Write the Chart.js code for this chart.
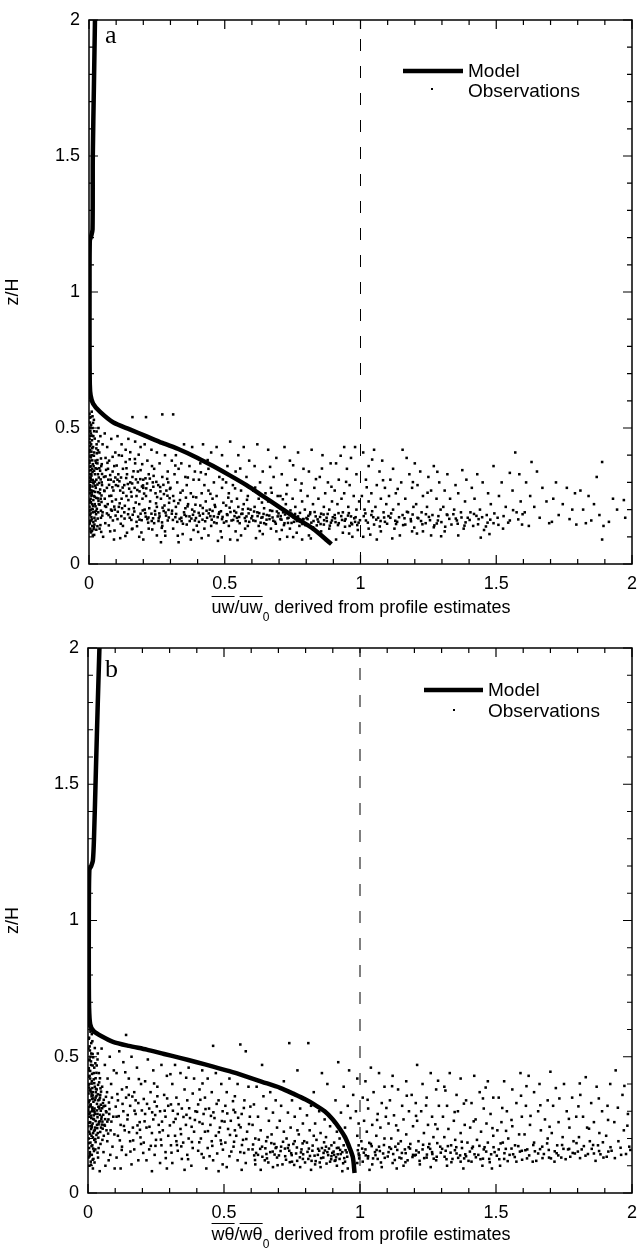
<!DOCTYPE html>
<html>
<head>
<meta charset="utf-8">
<script src="https://cdn.jsdelivr.net/npm/chart.js@4.4.1/dist/chart.umd.min.js"></script>
<style>
body{margin:0;background:#fff;width:637px;height:1252px;position:relative;overflow:hidden;font-family:"Liberation Sans",Arial,sans-serif;color:#000}
canvas{position:absolute;left:0}
#cA{top:0}
#cB{top:626px}
.xt{position:absolute;left:89px;width:544px;text-align:center;font-size:18px;line-height:18px;white-space:nowrap}
.ov{text-decoration:overline;text-decoration-thickness:1px}
.s{font-size:12px;position:relative;top:8px}
</style>
</head>
<body>
<canvas id="cA" width="637" height="626"></canvas>
<canvas id="cB" width="637" height="626"></canvas>
<div class="xt" style="top:598px"><span class="ov">uw</span>/<span class="ov">uw</span><span class="s">0</span> derived from profile estimates</div>
<div class="xt" style="top:1225px"><span class="ov">wθ</span>/<span class="ov">wθ</span><span class="s">0</span> derived from profile estimates</div>
<script>
// model profiles [x, z/H]
var modelA = [[0.022,2.0],[0.018,1.75],[0.014,1.5],[0.013,1.23],[0.008,1.205],[0.003,1.19],[0.002,1.0],[0.002,0.8],[0.003,0.66],
  [0.006,0.62],[0.015,0.59],[0.04,0.56],[0.09,0.52],[0.15,0.495],[0.21,0.47],[0.27,0.445],[0.335,0.42],[0.4,0.39],[0.457,0.36],
  [0.52,0.325],[0.58,0.29],[0.64,0.25],[0.70,0.21],[0.76,0.17],[0.825,0.13],[0.893,0.073]];
var modelB = [[0.042,2.0],[0.036,1.8],[0.029,1.55],[0.022,1.3],[0.018,1.22],[0.012,1.2],[0.005,1.185],[0.003,1.0],[0.003,0.8],
  [0.004,0.68],[0.008,0.62],[0.02,0.595],[0.05,0.575],[0.092,0.555],[0.15,0.54],[0.216,0.526],[0.28,0.51],[0.338,0.496],[0.4,0.48],
  [0.46,0.464],[0.52,0.447],[0.58,0.428],[0.64,0.408],[0.706,0.386],[0.76,0.362],[0.80,0.343],[0.83,0.326],[0.87,0.30],[0.90,0.27],
  [0.925,0.237],[0.945,0.205],[0.962,0.165],[0.974,0.13],[0.98,0.073]];
var unityLine = [[1,0],[1,2]];
var legendLabels = ['Model', 'Observations'];

// observations, panel a
var obsA = [
[0.003,0.52],[0.005,0.49],[0.002,0.46],[0.008,0.44],[0.004,0.42],[0.01,0.40],[0.003,0.38],[0.006,0.36],[0.012,0.35],[0.002,0.33],
[0.007,0.31],[0.015,0.30],[0.004,0.29],[0.009,0.27],[0.003,0.26],[0.018,0.25],[0.006,0.24],[0.011,0.22],[0.002,0.21],[0.008,0.20],
[0.014,0.19],[0.004,0.18],[0.02,0.17],[0.007,0.16],[0.003,0.15],[0.012,0.14],[0.005,0.13],[0.022,0.33],[0.025,0.28],[0.019,0.41],
[0.016,0.47],[0.024,0.38],[0.013,0.50],[0.006,0.54],[0.01,0.56],[0.021,0.22],[0.027,0.31],[0.017,0.36],[0.009,0.325],[0.005,0.305],
[0.013,0.285],[0.002,0.275],[0.023,0.265],[0.008,0.345],[0.004,0.395],[0.015,0.43],[0.011,0.455],[0.028,0.44],[0.002,0.50],[0.018,0.53],
[0.006,0.12],[0.014,0.105],[0.02,0.145],[0.026,0.195],[0.003,0.235],[0.01,0.255],[0.029,0.35],[0.016,0.235],[0.007,0.48],[0.024,0.16],
[0.035,0.50],[0.042,0.47],[0.05,0.44],[0.038,0.41],[0.061,0.39],[0.045,0.36],[0.07,0.35],[0.033,0.33],[0.055,0.32],[0.08,0.31],
[0.048,0.29],[0.066,0.28],[0.09,0.27],[0.04,0.26],[0.075,0.25],[0.058,0.24],[0.085,0.23],[0.036,0.22],[0.063,0.21],[0.095,0.20],
[0.05,0.19],[0.072,0.18],[0.044,0.17],[0.088,0.16],[0.06,0.15],[0.039,0.13],[0.078,0.12],[0.052,0.10],[0.092,0.09],[0.067,0.43],
[0.082,0.46],[0.058,0.48],[0.097,0.41],[0.074,0.38],[0.031,0.37],[0.087,0.34],[0.047,0.30],[0.099,0.29],[0.069,0.22],[0.034,0.19],
[0.081,0.20],[0.056,0.27],[0.093,0.36],[0.043,0.24],[0.071,0.31],
[0.105,0.47],[0.12,0.44],[0.135,0.42],[0.11,0.40],[0.15,0.385],[0.17,0.37],[0.125,0.35],[0.19,0.345],[0.14,0.33],[0.16,0.32],
[0.105,0.31],[0.18,0.30],[0.13,0.29],[0.195,0.285],[0.115,0.27],[0.155,0.265],[0.175,0.25],[0.12,0.24],[0.145,0.235],[0.185,0.22],
[0.11,0.21],[0.165,0.205],[0.13,0.19],[0.19,0.185],[0.15,0.17],[0.105,0.165],[0.175,0.155],[0.125,0.14],[0.16,0.13],[0.14,0.115],
[0.185,0.10],[0.115,0.095],[0.17,0.45],[0.145,0.46],[0.19,0.43],[0.16,0.54],[0.135,0.375],[0.18,0.34],[0.2,0.31],[0.108,0.33],
[0.152,0.30],[0.168,0.28],[0.138,0.25],[0.197,0.24],[0.122,0.205],
[0.21,0.54],[0.27,0.55],[0.205,0.44],[0.23,0.42],[0.25,0.41],[0.28,0.40],[0.215,0.38],[0.26,0.37],[0.24,0.35],[0.29,0.34],
[0.22,0.33],[0.27,0.32],[0.235,0.30],[0.255,0.29],[0.2,0.28],[0.285,0.27],[0.245,0.26],[0.21,0.25],[0.265,0.24],[0.225,0.23],
[0.295,0.225],[0.25,0.21],[0.205,0.20],[0.275,0.195],[0.23,0.185],[0.26,0.175],[0.215,0.165],[0.29,0.16],[0.24,0.15],[0.27,0.14],
[0.22,0.13],[0.28,0.12],[0.25,0.105],[0.2,0.09],[0.265,0.08],[0.232,0.36],[0.292,0.30],[0.208,0.315],[0.278,0.215],[0.243,0.195],
[0.31,0.55],[0.35,0.44],[0.38,0.43],[0.32,0.40],[0.305,0.38],[0.34,0.37],[0.37,0.36],[0.33,0.35],[0.39,0.34],[0.315,0.33],
[0.355,0.32],[0.385,0.31],[0.325,0.30],[0.36,0.29],[0.3,0.28],[0.345,0.27],[0.375,0.26],[0.31,0.25],[0.395,0.245],[0.335,0.235],
[0.365,0.22],[0.32,0.21],[0.38,0.20],[0.35,0.19],[0.305,0.185],[0.37,0.175],[0.34,0.17],[0.39,0.16],[0.325,0.155],[0.36,0.145],
[0.31,0.13],[0.385,0.125],[0.345,0.11],[0.375,0.09],[0.33,0.08],[0.355,0.205],
[0.42,0.44],[0.47,0.43],[0.45,0.41],[0.49,0.40],[0.41,0.37],[0.44,0.35],[0.43,0.33],[0.48,0.32],[0.405,0.31],[0.46,0.30],
[0.425,0.29],[0.49,0.28],[0.44,0.27],[0.415,0.26],[0.47,0.25],[0.455,0.24],[0.43,0.23],[0.495,0.225],[0.41,0.215],[0.465,0.21],
[0.445,0.20],[0.48,0.19],[0.42,0.185],[0.46,0.175],[0.435,0.17],[0.49,0.165],[0.405,0.155],[0.47,0.15],[0.45,0.14],[0.425,0.13],
[0.485,0.12],[0.44,0.105],[0.415,0.095],[0.475,0.085],[0.455,0.195],
[0.52,0.45],[0.57,0.43],[0.55,0.40],[0.59,0.38],[0.51,0.36],[0.54,0.34],[0.58,0.32],[0.505,0.30],[0.53,0.29],[0.56,0.27],
[0.515,0.26],[0.585,0.25],[0.545,0.24],[0.525,0.23],[0.57,0.22],[0.505,0.215],[0.55,0.21],[0.595,0.20],[0.535,0.195],[0.565,0.185],
[0.51,0.18],[0.58,0.175],[0.545,0.17],[0.525,0.16],[0.59,0.155],[0.555,0.15],[0.515,0.14],[0.575,0.13],[0.54,0.12],[0.56,0.105],
[0.52,0.09],[0.585,0.14],
[0.62,0.44],[0.66,0.42],[0.69,0.39],[0.61,0.36],[0.64,0.34],[0.68,0.32],[0.63,0.30],[0.67,0.28],[0.605,0.27],[0.65,0.26],
[0.695,0.25],[0.625,0.24],[0.66,0.23],[0.685,0.22],[0.61,0.21],[0.645,0.205],[0.675,0.195],[0.62,0.19],[0.655,0.18],[0.695,0.175],
[0.635,0.17],[0.665,0.165],[0.605,0.16],[0.685,0.155],[0.645,0.15],[0.625,0.14],[0.67,0.13],[0.69,0.12],[0.64,0.11],[0.615,0.095],
[0.72,0.43],[0.77,0.41],[0.74,0.38],[0.79,0.35],[0.71,0.33],[0.76,0.31],[0.73,0.29],[0.78,0.27],[0.705,0.25],[0.75,0.24],
[0.785,0.23],[0.725,0.22],[0.76,0.21],[0.795,0.20],[0.715,0.19],[0.745,0.185],[0.77,0.175],[0.735,0.17],[0.705,0.165],[0.79,0.165],
[0.755,0.155],[0.72,0.15],[0.775,0.14],[0.74,0.13],[0.71,0.125],[0.765,0.115],[0.73,0.10],[0.785,0.09],
[0.82,0.42],[0.86,0.40],[0.89,0.37],[0.81,0.34],[0.85,0.32],[0.88,0.30],[0.83,0.28],[0.87,0.26],[0.805,0.25],[0.845,0.24],
[0.895,0.23],[0.825,0.22],[0.865,0.21],[0.885,0.20],[0.815,0.19],[0.855,0.185],[0.835,0.175],[0.875,0.17],[0.805,0.165],[0.895,0.16],
[0.845,0.155],[0.865,0.145],[0.825,0.135],[0.885,0.13],[0.855,0.12],[0.81,0.105],
[0.94,0.43],[0.98,0.43],[0.965,0.39],[0.91,0.37],[0.95,0.35],[0.985,0.33],[0.92,0.31],[0.96,0.29],[0.905,0.27],[0.94,0.26],
[0.975,0.25],[0.93,0.24],[0.995,0.23],[0.915,0.22],[0.955,0.21],[0.985,0.20],[0.935,0.19],[0.905,0.18],[0.965,0.175],[0.945,0.165],
[0.98,0.155],[0.92,0.15],[0.96,0.14],[0.99,0.125],[0.935,0.115],[0.97,0.10],[0.91,0.09],
[1.01,0.41],[1.05,0.42],[1.08,0.38],[1.03,0.36],[1.07,0.34],[1.02,0.31],[1.06,0.29],[1.09,0.28],[1.04,0.26],[1.005,0.25],
[1.075,0.24],[1.03,0.23],[1.095,0.22],[1.055,0.21],[1.015,0.20],[1.085,0.19],[1.04,0.18],[1.065,0.17],[1.02,0.16],[1.09,0.155],
[1.05,0.145],[1.03,0.13],[1.075,0.12],[1.01,0.10],[1.06,0.09],
[1.155,0.42],[1.17,0.39],[1.2,0.37],[1.12,0.35],[1.18,0.33],[1.11,0.31],[1.15,0.30],[1.19,0.28],[1.13,0.26],[1.105,0.25],
[1.165,0.24],[1.14,0.22],[1.195,0.21],[1.12,0.20],[1.175,0.19],[1.155,0.18],[1.11,0.17],[1.185,0.165],[1.135,0.155],[1.165,0.145],
[1.125,0.13],[1.19,0.12],[1.145,0.105],
[1.27,0.36],[1.22,0.34],[1.25,0.32],[1.29,0.30],[1.21,0.29],[1.26,0.27],[1.23,0.25],[1.28,0.24],[1.205,0.22],[1.245,0.21],
[1.295,0.20],[1.225,0.19],[1.265,0.18],[1.21,0.17],[1.285,0.16],[1.24,0.15],[1.27,0.135],[1.23,0.12],[1.26,0.105],
[1.375,0.345],[1.39,0.31],[1.32,0.33],[1.35,0.29],[1.31,0.27],[1.36,0.26],[1.33,0.24],[1.385,0.23],[1.305,0.21],[1.345,0.20],
[1.37,0.19],[1.32,0.18],[1.395,0.17],[1.355,0.16],[1.335,0.145],[1.38,0.13],[1.31,0.12],[1.36,0.105],
[1.43,0.33],[1.49,0.36],[1.45,0.30],[1.41,0.28],[1.47,0.26],[1.42,0.24],[1.48,0.22],[1.44,0.20],[1.405,0.19],[1.465,0.18],
[1.435,0.165],[1.49,0.15],[1.415,0.14],[1.455,0.125],[1.475,0.11],
[1.57,0.41],[1.55,0.335],[1.585,0.33],[1.52,0.30],[1.56,0.27],[1.51,0.25],[1.59,0.23],[1.535,0.21],[1.575,0.19],[1.505,0.17],
[1.55,0.16],[1.595,0.145],[1.525,0.13],
[1.63,0.375],[1.65,0.34],[1.61,0.30],[1.67,0.28],[1.625,0.25],[1.685,0.23],[1.64,0.21],[1.605,0.19],[1.66,0.17],[1.695,0.15],
[1.62,0.14],
[1.72,0.30],[1.76,0.28],[1.79,0.26],[1.71,0.24],[1.745,0.22],[1.78,0.20],[1.73,0.18],[1.77,0.165],[1.705,0.155],[1.795,0.145],
[1.89,0.375],[1.87,0.32],[1.81,0.27],[1.84,0.25],[1.86,0.22],[1.82,0.20],[1.88,0.18],[1.85,0.16],[1.895,0.14],[1.83,0.15],
[1.89,0.09],
[1.93,0.24],[1.97,0.235],[1.975,0.17],[1.945,0.20],[1.915,0.155],
// denser parts of panel a
[0.004,0.447],[0.009,0.413],[0.002,0.372],[0.013,0.338],[0.006,0.317],[0.017,0.296],[0.003,0.282],[0.011,0.263],[0.021,0.247],[0.007,0.228],
[0.015,0.214],[0.002,0.196],[0.026,0.183],[0.009,0.172],[0.004,0.158],[0.018,0.137],[0.031,0.292],[0.036,0.318],[0.041,0.274],[0.033,0.241],
[0.046,0.228],[0.038,0.352],[0.044,0.388],[0.029,0.407],[0.012,0.426],[0.005,0.471],[0.019,0.488],[0.008,0.512],[0.003,0.538],[0.024,0.212],
[0.016,0.154],[0.032,0.167],[0.011,0.122],[0.027,0.126],[0.042,0.143],[0.048,0.331],[0.035,0.451],[0.001,0.344],[0.014,0.367],[0.022,0.303],
[0.063,0.346],[0.078,0.327],[0.091,0.303],[0.107,0.287],[0.118,0.318],[0.126,0.262],[0.143,0.294],[0.157,0.248],[0.164,0.341],[0.178,0.272],
[0.189,0.312],[0.203,0.259],[0.214,0.296],[0.227,0.271],[0.238,0.324],[0.251,0.246],[0.262,0.283],[0.276,0.257],[0.288,0.313],[0.297,0.242],
[0.059,0.213],[0.084,0.196],[0.098,0.178],[0.113,0.223],[0.131,0.167],[0.147,0.202],[0.161,0.181],[0.172,0.226],[0.186,0.163],[0.198,0.197],
[0.209,0.174],[0.222,0.205],[0.236,0.168],[0.247,0.223],[0.259,0.186],[0.271,0.207],[0.284,0.178],[0.293,0.199],[0.068,0.372],[0.087,0.394],
[0.102,0.362],[0.121,0.398],[0.138,0.352],[0.152,0.411],[0.169,0.386],[0.183,0.402],[0.196,0.367],[0.073,0.142],[0.094,0.123],[0.117,0.148],
[0.134,0.103],[0.158,0.128],[0.177,0.139],[0.193,0.116],[0.218,0.152],[0.233,0.127],[0.256,0.158],[0.268,0.133],[0.281,0.104],[0.057,0.268],
[0.082,0.251],[0.099,0.237],
[0.306,0.196],[0.318,0.172],[0.329,0.223],[0.341,0.158],[0.352,0.181],[0.363,0.212],[0.377,0.167],[0.388,0.193],[0.397,0.141],[0.408,0.178],
[0.419,0.206],[0.428,0.157],[0.441,0.186],[0.452,0.163],[0.463,0.217],[0.474,0.172],[0.486,0.194],[0.497,0.152],[0.508,0.183],[0.518,0.207],
[0.531,0.162],[0.542,0.189],[0.553,0.173],[0.566,0.201],[0.577,0.158],[0.588,0.186],[0.598,0.168],[0.608,0.193],[0.621,0.176],[0.632,0.152],
[0.643,0.184],[0.654,0.163],[0.667,0.197],[0.676,0.171],[0.688,0.148],[0.698,0.186],[0.709,0.163],[0.722,0.182],[0.733,0.151],[0.742,0.197],
[0.753,0.172],[0.766,0.158],[0.777,0.188],[0.788,0.165],[0.797,0.143],[0.808,0.177],[0.819,0.152],[0.831,0.191],[0.842,0.164],[0.853,0.147],
[0.864,0.182],[0.876,0.158],[0.887,0.141],[0.898,0.172],[0.908,0.154],[0.919,0.187],[0.932,0.162],[0.943,0.137],[0.954,0.178],[0.966,0.151],
[0.977,0.168],[0.988,0.143],[0.998,0.161],[0.337,0.262],[0.384,0.247],[0.447,0.258],[0.513,0.244],[0.582,0.236],[0.637,0.226],[0.714,0.238],
[1.012,0.176],[1.027,0.152],[1.043,0.194],[1.058,0.163],[1.071,0.138],[1.087,0.171],[1.098,0.148],[1.113,0.186],[1.128,0.159],[1.142,0.172],
[1.157,0.143],[1.171,0.192],[1.186,0.157],[1.198,0.134],[1.213,0.168],[1.228,0.146],[1.241,0.183],[1.256,0.161],[1.272,0.142],[1.287,0.176],
[1.298,0.154],[1.312,0.137],[1.327,0.166],[1.342,0.183],[1.358,0.148],[1.372,0.171],[1.387,0.153],[1.402,0.162],[1.418,0.184],[1.433,0.146],
[1.448,0.172],[1.462,0.138],[1.478,0.163],[1.493,0.186],[1.508,0.144],[1.527,0.176],[1.544,0.152],[1.562,0.198],[1.581,0.164],[1.597,0.183],
[0.412,0.337],[0.493,0.311],[0.538,0.278],[0.612,0.281],[0.673,0.262],[0.727,0.257],[0.783,0.296],[0.836,0.312],[0.893,0.284],[0.947,0.302],
[1.023,0.282],[1.083,0.308],[1.137,0.276],[1.193,0.301],[1.247,0.262],[1.283,0.339],[0.318,0.362],[0.364,0.318],[0.437,0.382],[0.557,0.351],
[0.667,0.357],[0.752,0.363],[0.858,0.351],[0.927,0.398],[1.043,0.384],
[0.327,0.104],[0.402,0.118],[0.489,0.098],[0.547,0.088],[0.629,0.121],[0.703,0.091],[0.752,0.099],[0.817,0.094],[0.873,0.088],[0.958,0.112],
[1.036,0.108],[1.117,0.094],[1.208,0.112],[1.297,0.102],[1.443,0.097],
[0.002,0.412],[0.007,0.392],[0.012,0.381],[0.004,0.357],[0.019,0.343],[0.008,0.331],[0.001,0.318],[0.014,0.309],[0.023,0.288],[0.005,0.271],
[0.016,0.268],[0.009,0.251],[0.027,0.243],[0.003,0.226],[0.013,0.203],[0.021,0.192],[0.006,0.186],[0.011,0.164],[0.001,0.147],[0.017,0.128],
[0.024,0.352],[0.031,0.382],[0.037,0.298],[0.043,0.311],[0.034,0.264],[0.046,0.252],[0.039,0.218],[0.029,0.203],[0.044,0.196],[0.049,0.178],
[0.006,0.502],[0.015,0.519],[0.001,0.487],[0.011,0.472],[0.021,0.461],[0.027,0.425],[0.033,0.418],[0.004,0.433],[0.018,0.398],[0.026,0.372],
[0.041,0.343],[0.047,0.367],[0.035,0.232],[0.008,0.116],[0.019,0.107],[0.031,0.139],[0.045,0.118],[0.002,0.552],[0.013,0.543],[0.028,0.487],
[0.061,0.322],[0.074,0.291],[0.086,0.282],[0.097,0.318],[0.112,0.304],[0.124,0.281],[0.137,0.316],[0.148,0.277],[0.159,0.296],[0.173,0.311],
[0.186,0.267],[0.199,0.289],[0.211,0.278],[0.224,0.314],[0.237,0.284],[0.248,0.302],[0.263,0.267],[0.274,0.291],[0.289,0.251],[0.298,0.276],
[0.066,0.186],[0.079,0.172],[0.093,0.211],[0.106,0.192],[0.119,0.176],[0.132,0.214],[0.144,0.183],[0.156,0.162],[0.167,0.193],[0.181,0.174],
[0.194,0.161],[0.207,0.187],[0.219,0.171],[0.231,0.158],[0.244,0.182],[0.257,0.168],[0.269,0.153],[0.282,0.189],[0.294,0.171],[0.309,0.162],
[0.321,0.184],[0.334,0.166],[0.346,0.148],[0.358,0.176],[0.371,0.158],[0.383,0.181],[0.394,0.169],[0.313,0.232],[0.357,0.244],[0.392,0.218],
[0.404,0.188],[0.418,0.163],[0.433,0.196],[0.447,0.176],[0.461,0.153],[0.478,0.184],[0.492,0.173],[0.506,0.157],[0.521,0.191],[0.536,0.176],
[0.548,0.158],[0.561,0.184],[0.574,0.169],[0.586,0.203],[0.601,0.176],[0.613,0.158],[0.627,0.187],[0.639,0.172],[0.652,0.146],[0.664,0.178],
[0.679,0.159],[0.692,0.193],[0.706,0.176],[0.718,0.143],[0.731,0.168],[0.746,0.151],[0.759,0.184],[0.772,0.162],[0.786,0.147],[0.801,0.169],
[0.814,0.183],[0.827,0.158],[0.839,0.142],[0.851,0.173],[0.866,0.161],[0.879,0.184],[0.891,0.152],[0.906,0.168],[0.917,0.143],[0.929,0.176],
[0.942,0.159],[0.957,0.187],[0.969,0.146],[0.982,0.172],[0.993,0.152],[1.018,0.186],[1.047,0.172],[1.074,0.158],[1.103,0.176],[1.131,0.147],
[1.162,0.168],[1.192,0.182],[1.223,0.158],[1.252,0.173],[1.281,0.149],[1.318,0.182],[1.351,0.167],[1.383,0.141],[1.427,0.177],[1.468,0.152]
];

// observations, panel b
var obsB = [
[0.003,0.62],[0.008,0.60],[0.004,0.57],[0.012,0.55],[0.002,0.53],[0.017,0.51],[0.006,0.49],[0.011,0.47],[0.003,0.45],[0.021,0.44],
[0.008,0.42],[0.014,0.41],[0.004,0.40],[0.025,0.39],[0.009,0.38],[0.018,0.37],[0.002,0.365],[0.013,0.355],[0.028,0.35],[0.006,0.34],
[0.02,0.335],[0.01,0.325],[0.004,0.315],[0.024,0.31],[0.015,0.30],[0.007,0.295],[0.027,0.29],[0.003,0.28],[0.012,0.275],[0.022,0.27],
[0.008,0.26],[0.017,0.255],[0.002,0.245],[0.026,0.24],[0.011,0.235],[0.005,0.225],[0.019,0.22],[0.013,0.21],[0.003,0.20],[0.023,0.195],
[0.009,0.185],[0.016,0.175],[0.004,0.165],[0.027,0.16],[0.007,0.15],[0.014,0.14],[0.002,0.13],[0.02,0.125],[0.01,0.115],[0.005,0.10],
[0.018,0.09],[0.029,0.37],[0.016,0.385],[0.006,0.43],[0.023,0.46],[0.009,0.50],[0.015,0.345],[0.001,0.305],[0.021,0.285],[0.012,0.245],
[0.032,0.38],[0.045,0.36],[0.038,0.34],[0.055,0.33],[0.042,0.31],[0.066,0.30],[0.035,0.29],[0.05,0.28],[0.075,0.27],[0.04,0.26],
[0.06,0.25],[0.048,0.24],[0.083,0.23],[0.036,0.22],[0.058,0.21],[0.07,0.37],[0.052,0.39],[0.088,0.35],[0.063,0.32],[0.078,0.29],
[0.044,0.35],[0.033,0.25],[0.093,0.28],[0.068,0.23],[0.085,0.40],[0.04,0.44],[0.062,0.47],[0.08,0.50],[0.05,0.53],[0.095,0.45],
[0.035,0.49],[0.072,0.42],[0.046,0.18],[0.09,0.17],[0.057,0.15],[0.037,0.13],[0.076,0.12],[0.064,0.10],[0.098,0.09],[0.043,0.08],
[0.082,0.14],[0.053,0.195],[0.097,0.215],[0.039,0.165],[0.071,0.19],
[0.14,0.58],[0.115,0.52],[0.16,0.50],[0.13,0.48],[0.18,0.46],[0.105,0.44],[0.15,0.42],[0.195,0.40],[0.125,0.38],[0.17,0.37],
[0.14,0.35],[0.11,0.34],[0.185,0.33],[0.155,0.32],[0.13,0.30],[0.175,0.29],[0.105,0.28],[0.145,0.27],[0.19,0.26],[0.12,0.25],
[0.165,0.24],[0.135,0.23],[0.18,0.22],[0.11,0.21],[0.155,0.19],[0.195,0.18],[0.125,0.17],[0.17,0.16],[0.14,0.14],[0.105,0.13],
[0.185,0.12],[0.16,0.105],[0.12,0.09],[0.15,0.36],[0.175,0.34],
[0.22,0.49],[0.27,0.47],[0.24,0.45],[0.29,0.43],[0.21,0.41],[0.255,0.39],[0.23,0.37],[0.28,0.36],[0.205,0.345],[0.245,0.335],
[0.295,0.32],[0.225,0.31],[0.265,0.30],[0.21,0.29],[0.285,0.28],[0.24,0.27],[0.26,0.25],[0.215,0.24],[0.275,0.23],[0.235,0.22],
[0.295,0.21],[0.25,0.195],[0.205,0.185],[0.27,0.175],[0.225,0.16],[0.285,0.15],[0.245,0.14],[0.215,0.12],[0.265,0.11],[0.29,0.09],
[0.235,0.08],[0.255,0.355],
[0.32,0.47],[0.37,0.46],[0.34,0.44],[0.39,0.42],[0.31,0.40],[0.355,0.38],[0.385,0.365],[0.325,0.35],[0.365,0.34],[0.305,0.325],
[0.345,0.31],[0.395,0.30],[0.33,0.29],[0.375,0.275],[0.315,0.26],[0.36,0.25],[0.34,0.235],[0.39,0.225],[0.32,0.21],[0.37,0.20],
[0.35,0.185],[0.305,0.175],[0.385,0.165],[0.33,0.155],[0.365,0.14],[0.345,0.125],[0.31,0.11],[0.38,0.10],[0.355,0.085],[0.325,0.19],
[0.46,0.54],[0.42,0.45],[0.47,0.44],[0.44,0.42],[0.49,0.40],[0.41,0.38],[0.455,0.37],[0.43,0.35],[0.48,0.34],[0.405,0.325],
[0.445,0.31],[0.495,0.30],[0.425,0.29],[0.465,0.275],[0.41,0.26],[0.45,0.25],[0.485,0.24],[0.43,0.225],[0.47,0.21],[0.415,0.20],
[0.455,0.19],[0.49,0.18],[0.44,0.165],[0.405,0.155],[0.475,0.145],[0.425,0.13],[0.46,0.12],[0.495,0.105],[0.435,0.09],[0.48,0.08],
[0.56,0.545],[0.58,0.52],[0.52,0.42],[0.55,0.40],[0.59,0.39],[0.51,0.37],[0.54,0.355],[0.575,0.34],[0.505,0.32],[0.535,0.305],
[0.565,0.29],[0.595,0.28],[0.525,0.265],[0.555,0.25],[0.515,0.235],[0.585,0.225],[0.545,0.21],[0.57,0.195],[0.505,0.185],[0.535,0.17],
[0.59,0.16],[0.56,0.15],[0.52,0.135],[0.55,0.12],[0.58,0.11],[0.51,0.095],[0.565,0.085],[0.54,0.23],
[0.64,0.47],[0.62,0.39],[0.67,0.37],[0.645,0.355],[0.69,0.34],[0.61,0.325],[0.655,0.31],[0.68,0.295],[0.625,0.28],[0.665,0.265],
[0.605,0.25],[0.695,0.24],[0.635,0.23],[0.675,0.215],[0.615,0.20],[0.655,0.19],[0.685,0.18],[0.64,0.17],[0.605,0.16],[0.67,0.15],
[0.625,0.14],[0.695,0.13],[0.65,0.12],[0.615,0.105],[0.68,0.095],[0.635,0.085],[0.66,0.205],[0.69,0.165],
[0.74,0.55],[0.77,0.45],[0.72,0.41],[0.75,0.34],[0.71,0.32],[0.78,0.31],[0.735,0.295],[0.76,0.28],[0.705,0.265],[0.79,0.255],
[0.745,0.24],[0.72,0.225],[0.775,0.215],[0.73,0.20],[0.795,0.19],[0.755,0.18],[0.71,0.17],[0.785,0.16],[0.74,0.155],[0.765,0.145],
[0.725,0.135],[0.79,0.125],[0.75,0.115],[0.715,0.105],[0.78,0.095],[0.76,0.19],[0.735,0.165],[0.77,0.23],
[0.81,0.55],[0.86,0.44],[0.88,0.40],[0.83,0.37],[0.82,0.32],[0.85,0.30],[0.805,0.285],[0.87,0.27],[0.835,0.255],[0.89,0.245],
[0.815,0.23],[0.855,0.22],[0.875,0.205],[0.84,0.195],[0.805,0.185],[0.895,0.175],[0.86,0.165],[0.825,0.155],[0.88,0.15],[0.845,0.14],
[0.865,0.13],[0.81,0.125],[0.89,0.115],[0.835,0.105],[0.855,0.095],[0.82,0.085],[0.875,0.17],[0.85,0.155],[0.83,0.21],[0.895,0.135],
[0.92,0.48],[0.96,0.45],[0.99,0.42],[0.94,0.39],[0.975,0.36],[0.91,0.34],[0.955,0.32],[0.985,0.30],[0.93,0.295],[0.965,0.275],
[0.905,0.26],[0.995,0.255],[0.945,0.24],[0.915,0.225],[0.99,0.21],[0.925,0.20],[0.905,0.185],[0.94,0.175],[0.915,0.165],[0.935,0.15],
[0.995,0.145],[0.905,0.14],[0.925,0.125],[0.945,0.115],[0.99,0.11],[0.915,0.10],[0.955,0.09],[0.935,0.08],[0.995,0.175],[0.91,0.12],
[1.04,0.46],[1.07,0.44],[1.02,0.41],[1.09,0.39],[1.05,0.37],[1.01,0.35],[1.08,0.33],[1.03,0.31],[1.065,0.29],[1.095,0.28],
[1.015,0.265],[1.045,0.25],[1.075,0.24],[1.025,0.225],[1.06,0.21],[1.09,0.20],[1.005,0.19],[1.04,0.18],[1.07,0.17],[1.02,0.16],
[1.055,0.15],[1.085,0.145],[1.03,0.135],[1.065,0.125],[1.01,0.115],[1.045,0.105],[1.08,0.095],[1.035,0.085],
[1.12,0.43],[1.17,0.41],[1.14,0.38],[1.19,0.36],[1.11,0.34],[1.155,0.32],[1.18,0.30],[1.125,0.285],[1.16,0.27],[1.105,0.255],
[1.195,0.245],[1.14,0.23],[1.17,0.215],[1.115,0.20],[1.15,0.19],[1.185,0.18],[1.13,0.17],[1.165,0.16],[1.105,0.15],[1.195,0.14],
[1.145,0.13],[1.175,0.12],[1.12,0.11],[1.16,0.10],[1.135,0.09],
[1.21,0.47],[1.26,0.44],[1.23,0.40],[1.28,0.38],[1.245,0.35],[1.205,0.33],[1.29,0.32],[1.225,0.30],[1.265,0.28],[1.21,0.265],
[1.25,0.25],[1.285,0.235],[1.235,0.22],[1.27,0.205],[1.215,0.19],[1.255,0.18],[1.295,0.17],[1.23,0.16],[1.265,0.15],[1.205,0.14],
[1.245,0.13],[1.28,0.12],[1.22,0.105],[1.26,0.095],
[1.33,0.44],[1.37,0.42],[1.31,0.39],[1.355,0.36],[1.39,0.34],[1.32,0.32],[1.36,0.30],[1.305,0.28],[1.345,0.265],[1.385,0.25],
[1.325,0.235],[1.37,0.22],[1.31,0.205],[1.35,0.195],[1.395,0.185],[1.335,0.175],[1.375,0.165],[1.315,0.155],[1.355,0.145],[1.39,0.135],
[1.34,0.125],[1.37,0.115],[1.32,0.10],[1.38,0.09],
[1.42,0.43],[1.47,0.41],[1.44,0.37],[1.49,0.35],[1.41,0.33],[1.455,0.31],[1.48,0.29],[1.425,0.27],[1.465,0.255],[1.405,0.24],
[1.445,0.225],[1.49,0.21],[1.43,0.195],[1.47,0.185],[1.415,0.17],[1.455,0.16],[1.495,0.15],[1.435,0.14],[1.475,0.125],[1.41,0.115],
[1.45,0.10],[1.485,0.09],
[1.59,0.44],[1.53,0.41],[1.56,0.38],[1.51,0.35],[1.575,0.33],[1.54,0.30],[1.595,0.28],[1.52,0.26],[1.56,0.245],[1.505,0.23],
[1.585,0.215],[1.545,0.20],[1.525,0.185],[1.57,0.175],[1.51,0.16],[1.595,0.155],[1.55,0.14],[1.53,0.125],[1.575,0.115],[1.515,0.10],
[1.70,0.445],[1.62,0.43],[1.66,0.40],[1.64,0.37],[1.69,0.34],[1.61,0.32],[1.655,0.30],[1.68,0.27],[1.625,0.25],[1.665,0.23],
[1.605,0.215],[1.69,0.20],[1.64,0.185],[1.67,0.17],[1.615,0.16],[1.655,0.145],[1.695,0.13],[1.635,0.115],
[1.75,0.40],[1.72,0.385],[1.78,0.35],[1.71,0.32],[1.76,0.30],[1.795,0.28],[1.73,0.26],[1.77,0.24],[1.705,0.22],[1.745,0.205],
[1.785,0.19],[1.725,0.175],[1.765,0.16],[1.79,0.145],[1.74,0.13],[1.715,0.115],
[1.83,0.425],[1.87,0.39],[1.81,0.36],[1.85,0.33],[1.89,0.30],[1.82,0.28],[1.86,0.26],[1.835,0.24],[1.88,0.22],[1.805,0.205],
[1.845,0.19],[1.875,0.175],[1.815,0.16],[1.86,0.145],[1.895,0.13],
[1.94,0.45],[1.92,0.40],[1.965,0.36],[1.91,0.32],[1.985,0.29],[1.935,0.26],[1.97,0.23],[1.905,0.21],[1.95,0.19],[1.99,0.17],
[1.925,0.155],[1.96,0.14],
// denser parts of panel b
[0.004,0.387],[0.011,0.372],[0.018,0.358],[0.026,0.341],[0.033,0.327],[0.041,0.316],[0.047,0.302],[0.056,0.287],[0.063,0.271],[0.071,0.262],
[0.006,0.258],[0.014,0.241],[0.022,0.228],[0.031,0.213],[0.038,0.203],[0.045,0.224],[0.054,0.236],[0.062,0.247],[0.074,0.218],[0.003,0.333],
[0.009,0.318],[0.016,0.308],[0.024,0.296],[0.035,0.278],[0.043,0.263],[0.051,0.251],[0.058,0.342],[0.066,0.353],[0.077,0.332],[0.029,0.382],
[0.037,0.397],[0.048,0.372],[0.013,0.402],[0.021,0.417],[0.002,0.427],[0.008,0.448],[0.017,0.468],[0.004,0.487],[0.012,0.512],[0.006,0.538],
[0.003,0.566],[0.014,0.583],[0.025,0.532],[0.032,0.468],[0.044,0.421],[0.052,0.311],[0.068,0.296],[0.079,0.308],[0.086,0.262],[0.028,0.187],
[0.019,0.163],[0.007,0.143],[0.035,0.148],[0.011,0.104],[0.024,0.112],
[0.108,0.363],[0.127,0.327],[0.146,0.286],[0.163,0.354],[0.182,0.248],[0.198,0.303],[0.217,0.327],[0.236,0.296],[0.253,0.318],[0.272,0.262],
[0.291,0.347],[0.312,0.302],[0.333,0.326],[0.351,0.279],[0.372,0.311],[0.393,0.268],[0.413,0.342],[0.432,0.308],[0.452,0.283],[0.473,0.327],
[0.492,0.264],[0.512,0.292],[0.533,0.337],[0.552,0.276],[0.573,0.312],[0.592,0.253],[0.117,0.193],[0.156,0.152],[0.193,0.204],[0.231,0.173],
[0.268,0.196],[0.307,0.148],[0.343,0.171],[0.382,0.187],[0.418,0.143],[0.457,0.173],[0.496,0.159],[0.537,0.188],[0.574,0.147],[0.137,0.443],
[0.187,0.418],[0.243,0.402],[0.303,0.436],[0.361,0.423],[0.421,0.402],
[0.607,0.178],[0.618,0.147],[0.628,0.196],[0.641,0.133],[0.652,0.164],[0.663,0.112],[0.674,0.183],[0.686,0.141],[0.697,0.102],[0.708,0.154],
[0.717,0.188],[0.728,0.122],[0.738,0.176],[0.749,0.139],[0.758,0.103],[0.768,0.167],[0.779,0.131],[0.789,0.182],[0.798,0.112],[0.807,0.151],
[0.816,0.136],[0.826,0.174],[0.837,0.117],[0.846,0.162],[0.857,0.128],[0.866,0.147],[0.877,0.108],[0.886,0.163],[0.894,0.124],[0.903,0.152],
[0.912,0.131],[0.921,0.166],[0.929,0.143],[0.938,0.109],[0.947,0.157],[0.953,0.133],[0.992,0.157],[0.997,0.127],[0.868,0.186],[0.822,0.118],
[0.783,0.149],[0.742,0.113],[0.693,0.168],[0.656,0.143],[0.614,0.121],
[1.008,0.163],[1.021,0.138],[1.034,0.184],[1.048,0.127],[1.061,0.158],[1.077,0.112],[1.088,0.176],[1.102,0.134],[1.114,0.162],[1.128,0.121],
[1.141,0.181],[1.154,0.147],[1.167,0.113],[1.179,0.168],[1.193,0.132],[1.207,0.156],[1.219,0.118],[1.232,0.177],[1.246,0.141],[1.258,0.162],
[1.271,0.126],[1.284,0.183],[1.297,0.148],[1.311,0.133],[1.323,0.172],[1.336,0.113],[1.349,0.157],[1.361,0.129],[1.374,0.188],[1.387,0.142],
[1.399,0.118],[1.412,0.164],[1.426,0.131],[1.439,0.173],[1.452,0.126],[1.464,0.152],[1.477,0.113],[1.491,0.168],[1.503,0.137],[1.517,0.182],
[1.531,0.146],[1.543,0.117],[1.557,0.163],[1.569,0.132],[1.582,0.172],[1.596,0.122],[1.608,0.157],[1.622,0.138],[1.637,0.176],[1.648,0.118],
[1.662,0.161],[1.676,0.143],[1.688,0.182],[1.702,0.127],[1.716,0.153],[1.729,0.138],[1.743,0.176],[1.756,0.124],[1.769,0.162],[1.782,0.147],
[1.796,0.183],[1.809,0.128],[1.823,0.172],[1.838,0.143],[1.852,0.162],[1.866,0.118],[1.879,0.154],[1.893,0.186],[1.907,0.133],[1.921,0.168],
[1.028,0.342],[1.063,0.268],[1.097,0.312],[1.133,0.248],[1.172,0.357],[1.206,0.283],[1.243,0.321],[1.277,0.252],[1.314,0.376],[1.348,0.297],
[1.382,0.328],[1.418,0.263],[1.452,0.347],[1.487,0.238],[1.523,0.312],[1.557,0.268],[1.592,0.357],[1.627,0.283],[1.663,0.322],[1.697,0.243],
[1.733,0.347],[1.768,0.272],[1.803,0.318],[1.842,0.236],[1.878,0.347],[1.912,0.268],[1.948,0.313],[1.983,0.247],[1.118,0.392],[1.287,0.412],
[1.462,0.387],[1.612,0.392],[1.808,0.402],[1.972,0.393],[1.537,0.228],
[0.002,0.397],[0.006,0.376],[0.013,0.364],[0.019,0.347],[0.001,0.336],[0.009,0.322],[0.016,0.314],[0.023,0.302],[0.004,0.291],[0.011,0.284],
[0.019,0.272],[0.028,0.264],[0.002,0.257],[0.014,0.248],[0.025,0.231],[0.008,0.217],[0.018,0.204],[0.027,0.198],[0.004,0.183],[0.013,0.172],
[0.022,0.154],[0.006,0.135],[0.017,0.122],[0.031,0.356],[0.036,0.362],[0.042,0.343],[0.038,0.316],[0.047,0.324],[0.033,0.303],[0.044,0.287],
[0.049,0.271],[0.039,0.252],[0.034,0.238],[0.053,0.262],[0.057,0.318],[0.046,0.384],[0.041,0.406],[0.028,0.421],[0.015,0.437],[0.003,0.458],
[0.011,0.483],[0.019,0.498],[0.007,0.523],[0.016,0.557],[0.009,0.592],[0.001,0.612],[0.027,0.476],[0.036,0.512],[0.023,0.403],[0.031,0.441],
[0.611,0.138],[0.633,0.162],[0.658,0.127],[0.679,0.152],[0.702,0.138],[0.724,0.163],[0.747,0.146],[0.769,0.118],[0.791,0.142],[0.812,0.163],
[0.833,0.137],[0.852,0.112],[0.871,0.156],[0.883,0.139],[0.898,0.147],[0.907,0.118],[0.918,0.142],[0.927,0.158],[0.942,0.128],[0.951,0.149],
[0.996,0.138],[1.014,0.148],[1.029,0.127],[1.043,0.172],[1.057,0.139],[1.073,0.154],[1.091,0.129],[1.108,0.168],[1.122,0.143],[1.137,0.158],
[1.152,0.127],[1.168,0.146],[1.184,0.163],[1.201,0.138],[1.216,0.149],[1.236,0.128],[1.251,0.168],[1.266,0.143],[1.282,0.133],[1.302,0.162],
[1.318,0.124],[1.333,0.148],[1.354,0.168],[1.368,0.138],[1.383,0.127],[1.404,0.152],[1.421,0.142],[1.443,0.124],[1.458,0.168],[1.482,0.142],
[1.512,0.124],[1.536,0.162],[1.563,0.142],[1.588,0.152],[1.614,0.127],[1.643,0.153],[1.671,0.128],[1.694,0.158],[1.723,0.146],[1.748,0.162],
[1.773,0.133],[1.801,0.152],[1.829,0.137],[1.857,0.176],[1.884,0.142],[1.913,0.152],[1.937,0.128],[1.958,0.166],[1.978,0.143],[1.994,0.158],
[0.113,0.282],[0.132,0.246],[0.151,0.223],[0.171,0.302],[0.191,0.232],[0.208,0.263],[0.226,0.243],[0.247,0.286],[0.263,0.223],[0.282,0.302],
[0.301,0.248],[0.322,0.272],[0.342,0.216],[0.362,0.287],[0.381,0.243],[0.401,0.298],[0.421,0.254],[0.441,0.227],[0.461,0.296],[0.481,0.223],
[0.502,0.262],[0.522,0.213],[0.541,0.296],[0.561,0.241],[0.582,0.198],[0.597,0.317],[0.124,0.158],[0.166,0.193],[0.203,0.147],[0.248,0.173],
[0.286,0.128],[0.327,0.176],[0.368,0.124],[0.409,0.186],[0.447,0.135],[0.488,0.193],[0.527,0.152],[0.566,0.176],[0.102,0.317],[0.142,0.388]
];

function toXY(arr) {
  return arr.map(function(p) { return {x: p[0], y: p[1]}; });
}

// box with inward ticks on all four sides
var frameTicks = {
  id: 'frameTicks',
  afterDatasetsDraw: function(chart) {
    var ctx = chart.ctx, a = chart.chartArea, xs = chart.scales.x, ys = chart.scales.y;
    ctx.save();
    ctx.strokeStyle = '#000';
    ctx.lineWidth = 1.5;
    ctx.strokeRect(a.left, a.top, a.right - a.left, a.bottom - a.top);
    ctx.lineWidth = 1.2;
    ctx.beginPath();
    for (var i = 0; i <= 20; i++) {
      var len = (i % 5 === 0) ? 9 : 5;
      var px = xs.getPixelForValue(i / 10), py = ys.getPixelForValue(i / 10);
      ctx.moveTo(px, a.bottom); ctx.lineTo(px, a.bottom - len);
      ctx.moveTo(px, a.top); ctx.lineTo(px, a.top + len);
      ctx.moveTo(a.left, py); ctx.lineTo(a.left + len, py);
      ctx.moveTo(a.right, py); ctx.lineTo(a.right - len, py);
    }
    ctx.stroke();
    ctx.restore();
  }
};

// panel letter and the little legend inside the plot
var panelDecor = {
  id: 'panelDecor',
  afterDraw: function(chart, args, o) {
    var ctx = chart.ctx;
    ctx.save();
    ctx.fillStyle = '#000';
    ctx.textBaseline = 'alphabetic';
    ctx.textAlign = 'left';
    ctx.font = '26px "Liberation Serif"';
    ctx.fillText(o.letter, o.letterX, o.letterY);
    ctx.strokeStyle = '#000';
    ctx.lineWidth = 4.5;
    ctx.beginPath();
    ctx.moveTo(o.lx0, o.ly);
    ctx.lineTo(o.lx1, o.ly);
    ctx.stroke();
    ctx.fillRect(o.dotX - 1, o.dotY - 1, 2, 2);
    ctx.font = '19px "Liberation Sans"';
    ctx.fillText(legendLabels[0], o.tx, o.ty0);
    ctx.fillText(legendLabels[1], o.tx, o.ty1);
    ctx.restore();
  }
};

function drawPanel(id, obs, model, left, top, xh, decor) {
  var tickFont = {family: '"Liberation Sans", Arial', size: 18};
  return new Chart(document.getElementById(id), {
    type: 'scatter',
    data: {
      datasets: [
        {data: toXY(obs), pointStyle: 'rect', pointRadius: 1.8, pointHoverRadius: 1.8,
         backgroundColor: '#000', borderWidth: 0},
        {data: toXY(unityLine), showLine: true, borderColor: '#000', borderWidth: 1,
         borderDash: [12, 15], pointRadius: 0},
        {data: toXY(model), showLine: true, borderColor: '#000', borderWidth: 4.5,
         pointRadius: 0, tension: 0.25, borderCapStyle: 'butt'}
      ]
    },
    options: {
      responsive: false,
      animation: false,
      events: [],
      layout: {padding: {top: top, right: 5, left: 0, bottom: 0}},
      plugins: {legend: {display: false}, tooltip: {enabled: false}, panelDecor: decor},
      scales: {
        x: {
          type: 'linear', min: 0, max: 2,
          ticks: {stepSize: 0.5, color: '#000', font: tickFont, padding: 9, maxRotation: 0,
                  callback: function(v) { return String(v); }},
          grid: {display: false, drawTicks: false},
          border: {display: false},
          afterFit: function(s) { s.height = xh; s.paddingLeft = 0; s.paddingRight = 0; }
        },
        y: {
          type: 'linear', min: 0, max: 2,
          ticks: {stepSize: 0.5, color: '#000', font: tickFont, padding: 9,
                  callback: function(v) { return String(v); }},
          grid: {display: false, drawTicks: false},
          border: {display: false},
          title: {display: true, text: 'z/H', color: '#000', font: tickFont, padding: {top: 2, bottom: 2}},
          afterFit: function(s) { s.width = left; s.paddingTop = 0; s.paddingBottom = 0; }
        }
      }
    },
    plugins: [frameTicks, panelDecor]
  });
}

drawPanel('cA', obsA, modelA, 89, 20, 62,
  {letter: 'a', letterX: 105, letterY: 43, lx0: 403, lx1: 463, ly: 71, dotX: 432, dotY: 89, tx: 468, ty0: 77, ty1: 97});
drawPanel('cB', obsB, modelB, 88, 22, 59,
  {letter: 'b', letterX: 105, letterY: 51, lx0: 424, lx1: 483, ly: 64, dotX: 454, dotY: 84, tx: 488, ty0: 70, ty1: 91});
</script>
</body>
</html>
